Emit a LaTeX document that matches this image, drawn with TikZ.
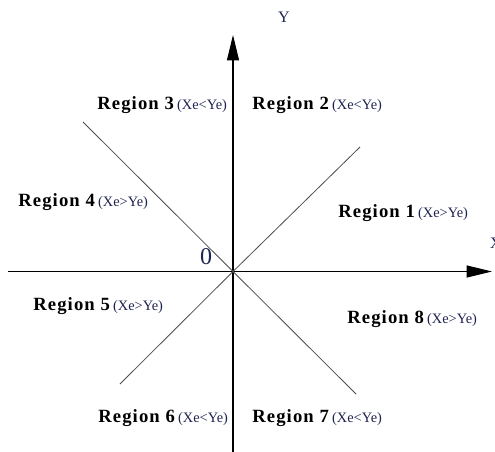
\documentclass[tikz,border=0pt]{standalone}
\usepackage{fontspec}
\setmainfont{Liberation Serif}
\usetikzlibrary{arrows.meta}
\definecolor{cond}{RGB}{30,34,80}
\tikzset{
    octant plot/.style = {x=0.75pt, y=-0.75pt,
                          >={Triangle[length=19pt, width=9pt]}},
    axis/.style        = {line width=0.8pt, black},
    diag/.style        = {line width=0.6pt, black!70},
    region/.style      = {anchor=west, inner sep=0pt,
                          font=\fontsize{14}{16}\selectfont\bfseries
                               \addfontfeature{LetterSpace=6}},
    axis label/.style  = {inner sep=0pt, text=cond,
                          font=\fontsize{12}{14}\selectfont},
}
\newcommand{\cnd}[1]{\,{\fontsize{10.8}{12}\selectfont
    \addfontfeature{LetterSpace=0}\mdseries\color{cond}(#1)}}

\begin{document}
\begin{tikzpicture}[octant plot]
\useasboundingbox (0,0) rectangle (495,452);

% Axes through the origin
\coordinate (O)  at (233,271.5);
\coordinate (xl) at (8,271.5);
\coordinate (xr) at (492,271.5);
\coordinate (yb) at (233,452);
\coordinate (yt) at (233,35);
\draw[axis, ->] (xl) -- (xr);
\draw[axis, ->] (yb) -- (yt);
\node[axis label] (xlab) at (496,243) {X};
\node[axis label] (ylab) at (284,17) {Y};
\node[inner sep=0pt, text=cond, font=\fontsize{18}{20}\selectfont]
    (zero) at (206,257) {0};

% Diagonals |Xe| = |Ye|
\coordinate (d1a) at (83,122);
\coordinate (d1b) at (356,394);
\coordinate (d2a) at (360,147);
\coordinate (d2b) at (120,384);
\draw[diag] (d1a) -- (O) -- (d1b);
\draw[diag] (d2a) -- (O) -- (d2b);

% Octant labels
\node[region] (r1) at (338,213) {Region 1\cnd{Xe>Ye}};
\node[region] (r2) at (252,105) {Region 2\cnd{Xe<Ye}};
\node[region] (r3) at (97,105)  {Region 3\cnd{Xe<Ye}};
\node[region] (r4) at (18,202)  {Region 4\cnd{Xe>Ye}};
\node[region] (r5) at (33,306)  {Region 5\cnd{Xe>Ye}};
\node[region] (r6) at (98,418)  {Region 6\cnd{Xe<Ye}};
\node[region] (r7) at (252,418) {Region 7\cnd{Xe<Ye}};
\node[region] (r8) at (347,319) {Region 8\cnd{Xe>Ye}};

\end{tikzpicture}
\end{document}
